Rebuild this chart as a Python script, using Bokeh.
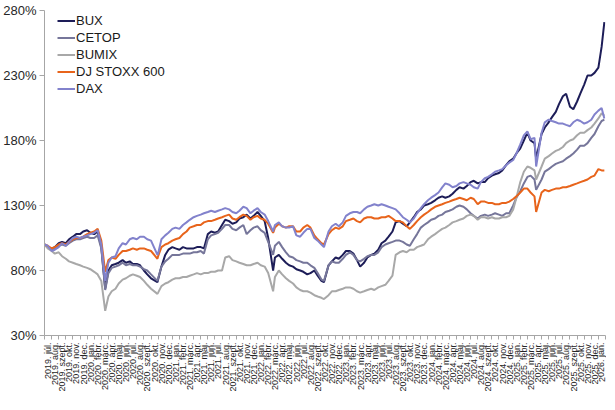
import pandas as pd
from bokeh.plotting import figure
from bokeh.models import FixedTicker, Range1d, Legend, LegendItem
from bokeh.embed import file_html
from bokeh.resources import INLINE

# Hónapnevek a vízszintes tengelyhez
honapok = ["jan.", "febr.", "márc.", "ápr.", "máj.", "jún.",
           "júl.", "aug.", "szept.", "okt.", "nov.", "dec."]

# Félhavi mintavétel (1. és 15.), néhány nap kicserélve a nagy esések napjára
csere = {"2020-03-15": "2020-03-18", "2020-10-15": "2020-10-29",
         "2022-03-01": "2022-03-07", "2022-10-15": "2022-10-12",
         "2025-04-15": "2025-04-08"}
datumok = [pd.Timestamp(csere.get(d.strftime("%Y-%m-%d"), d))
           for d in pd.date_range("2019-07-01", "2026-01-15", freq="SMS")]
datumok.append(pd.Timestamp("2026-01-27"))

# Indexek, 2019. júl. 1. = 100%
bux = [100, 98, 97, 98, 101, 102, 101, 104, 106, 108, 108, 110,
       111, 109, 108, 110, 98, 66, 80, 84, 85, 86, 88, 86, 87, 85, 85, 84, 80, 77, 74, 71, 73, 83, 92, 96,
       98, 97, 96, 98, 97, 97, 97, 98, 98, 97, 108, 110, 109, 110, 115, 119, 118, 116, 117, 120, 121, 123, 120, 122,
       125, 122, 118, 105, 80, 90, 92, 89, 86, 84, 83, 81, 80, 79, 77, 78, 80, 76, 72, 71, 84, 87, 90, 89,
       92, 95, 95, 93, 88, 83, 86, 90, 92, 93, 96, 101, 103, 106, 110, 117, 118, 116, 114, 117, 121, 125, 127, 130,
       131, 132, 134, 136, 137, 136, 137, 139, 142, 144, 143, 145, 148, 149, 147, 148, 148, 151, 153, 154, 155, 157, 161, 164,
       166, 170, 174, 180, 186, 180, 178, 166, 185, 190, 194, 198, 202, 208, 214, 216, 206, 204, 210, 216, 223, 230, 230, 232,
       236, 252, 271]
cetop = [100, 98, 96, 97, 99, 100, 99, 101, 103, 104, 104, 105,
         106, 105, 105, 107, 97, 65, 78, 82, 83, 84, 86, 84, 85, 84, 84, 83, 81, 80, 77, 72, 74, 83, 87, 89,
         92, 92, 92, 93, 93, 93, 94, 94, 95, 93, 104, 107, 108, 109, 112, 115, 115, 112, 111, 113, 115, 108, 111, 113,
         114, 111, 109, 102, 92, 99, 102, 98, 94, 91, 90, 88, 87, 86, 86, 84, 82, 78, 73, 72, 84, 87, 86, 86,
         89, 92, 94, 92, 88, 87, 89, 91, 92, 92, 94, 98, 100, 101, 102, 103, 103, 102, 100, 99, 104, 108, 113, 115,
         117, 119, 120, 122, 123, 125, 126, 127, 129, 130, 129, 127, 124, 122, 120, 122, 123, 122, 123, 124, 123, 122, 124, 124,
         130, 136, 141, 147, 152, 153, 150, 142, 150, 156, 158, 160, 162, 163, 164, 166, 168, 170, 173, 176, 176, 178, 182, 185,
         191, 195, 196]
bumix = [100, 97, 95, 93, 94, 91, 89, 87, 86, 85, 84, 83,
         82, 81, 79, 77, 72, 49, 60, 64, 66, 70, 73, 74, 76, 77, 76, 75, 72, 69, 66, 62, 63, 68, 70, 71,
         73, 74, 74, 75, 75, 76, 77, 78, 77, 78, 78, 79, 79, 80, 80, 90, 91, 88, 87, 86, 85, 84, 84, 85,
         86, 84, 83, 78, 64, 75, 80, 77, 74, 72, 70, 67, 65, 64, 64, 63, 61, 60, 59, 58, 61, 64, 64, 65,
         66, 67, 67, 66, 64, 63, 64, 65, 66, 65, 67, 68, 69, 72, 76, 92, 94, 95, 94, 96, 96, 98, 99, 100,
         104, 106, 108, 110, 112, 113, 115, 117, 118, 119, 120, 122, 123, 122, 119, 121, 121, 120, 121, 120, 120, 121, 121, 122,
         127, 136, 148, 156, 160, 159, 157, 150, 160, 166, 168, 170, 172, 173, 175, 178, 180, 181, 184, 186, 186, 188, 190, 193,
         197, 201, 199]
stoxx = [100, 99, 97, 98, 100, 101, 100, 102, 104, 105, 105, 106,
         108, 109, 110, 112, 103, 79, 88, 90, 89, 92, 95, 95, 96, 97, 96, 97, 97, 96, 95, 89, 91, 98, 100, 101,
         103, 104, 105, 108, 110, 113, 114, 115, 115, 117, 118, 118, 119, 120, 121, 122, 123, 120, 119, 121, 123, 122, 119, 121,
         122, 120, 119, 116, 109, 113, 116, 114, 113, 114, 114, 110, 110, 113, 115, 113, 107, 104, 101, 100, 108, 111, 113, 112,
         114, 118, 119, 120, 118, 117, 120, 121, 121, 120, 120, 121, 121, 122, 120, 118, 118, 117, 114, 112, 115, 118, 121, 123,
         125, 127, 129, 130, 131, 132, 133, 134, 135, 136, 135, 134, 136, 135, 131, 133, 133, 132, 132, 131, 131, 132, 132, 133,
         135, 137, 140, 143, 143, 140, 137, 125, 140, 142, 141, 142, 143, 143, 144, 144, 145, 146, 147, 148, 149, 150, 152, 153,
         158, 157, 157]
dax = [100, 99, 95, 96, 98, 101, 99, 102, 105, 106, 105, 106,
       107, 108, 109, 111, 100, 72, 86, 90, 91, 97, 101, 100, 104, 105, 104, 106, 106, 104, 103, 92, 93, 104, 107, 109,
       112, 113, 112, 115, 117, 119, 121, 122, 123, 124, 125, 126, 125, 126, 127, 128, 127, 125, 124, 126, 129, 128, 124, 126,
       128, 125, 123, 118, 110, 115, 117, 114, 113, 113, 114, 107, 106, 109, 112, 112, 105, 103, 100, 98, 110, 114, 116, 114,
       117, 122, 124, 125, 125, 124, 127, 129, 130, 131, 130, 131, 130, 129, 128, 127, 124, 121, 119, 117, 120, 124, 128, 131,
       134, 136, 138, 140, 144, 147, 146, 144, 145, 147, 148, 147, 146, 144, 143, 148, 151, 152, 154, 156, 157, 158, 161, 163,
       165, 170, 177, 184, 187, 181, 182, 160, 186, 194, 196, 195, 194, 193, 193, 192, 191, 194, 196, 195, 193, 194, 196, 200,
       203, 205, 197]

sorozatok = [("BUX", bux, "#1d1d58"), ("CETOP", cetop, "#76769a"),
             ("BUMIX", bumix, "#a8a8a8"), ("DJ STOXX 600", stoxx, "#e8641b"),
             ("DAX", dax, "#8282cc")]


def honap_pozicio(d):
    # Hónapok száma 2019. júl. 1. óta
    return (d.year - 2019) * 12 + d.month - 7 + (d.day - 1) / d.days_in_month


x = [honap_pozicio(d) for d in datumok]
n_honap = 79
cimkek = {i + 0.5: f"{2019 + (6 + i) // 12}. {honapok[(6 + i) % 12]}" for i in range(n_honap)}

p = figure(width=606, height=394, x_range=Range1d(0, n_honap), y_range=Range1d(30, 280),
           output_backend="svg", toolbar_location=None,
           min_border_left=10, min_border_right=1, min_border_top=10, min_border_bottom=0)
p.xgrid.visible = False
p.ygrid.visible = False
p.outline_line_color = None

elemek = []
for nev, ertekek, szin in sorozatok:
    r = p.line(x, ertekek, line_width=2, color=szin)
    elemek.append(LegendItem(label=nev, renderers=[r]))

# Függőleges tengely
p.yaxis.ticker = FixedTicker(ticks=[30, 80, 130, 180, 230, 280])
p.yaxis.major_label_overrides = {v: f"{v}%" for v in [30, 80, 130, 180, 230, 280]}
p.yaxis.major_label_text_font = "Liberation Sans"
p.yaxis.major_label_text_font_size = "13px"
p.yaxis.major_label_text_color = "#262626"
p.yaxis.axis_line_color = "#a6a6a6"
p.yaxis.major_tick_line_color = "#a6a6a6"
p.yaxis.major_tick_out = 5
p.yaxis.major_tick_in = 0
p.yaxis.minor_tick_line_color = None
p.yaxis.major_label_standoff = 3

# Vízszintes tengely, havi címkék
p.xaxis.ticker = FixedTicker(ticks=list(cimkek.keys()), minor_ticks=list(range(n_honap + 1)))
p.xaxis.major_label_overrides = cimkek
p.xaxis.major_label_orientation = 1.5708
p.xaxis.major_label_text_font = "Liberation Sans"
p.xaxis.major_label_text_font_size = "9px"
p.xaxis.major_label_text_color = "#262626"
p.xaxis.axis_line_color = "#a6a6a6"
p.xaxis.major_tick_line_color = None
p.xaxis.minor_tick_line_color = "#a6a6a6"
p.xaxis.minor_tick_out = 4
p.xaxis.minor_tick_in = 0
p.xaxis.major_label_standoff = 1

legend = Legend(items=elemek, location=(13, 238))
legend.label_text_font = "Liberation Sans"
legend.label_text_font_size = "13px"
legend.label_text_color = "#1a1a1a"
legend.glyph_width = 18
legend.glyph_height = 17
legend.label_height = 17
legend.label_standoff = 1
legend.spacing = 0
legend.padding = 0
legend.margin = 0
legend.border_line_color = None
legend.background_fill_alpha = 0
p.add_layout(legend)

open("out.html", "w").write(file_html(p, INLINE))
